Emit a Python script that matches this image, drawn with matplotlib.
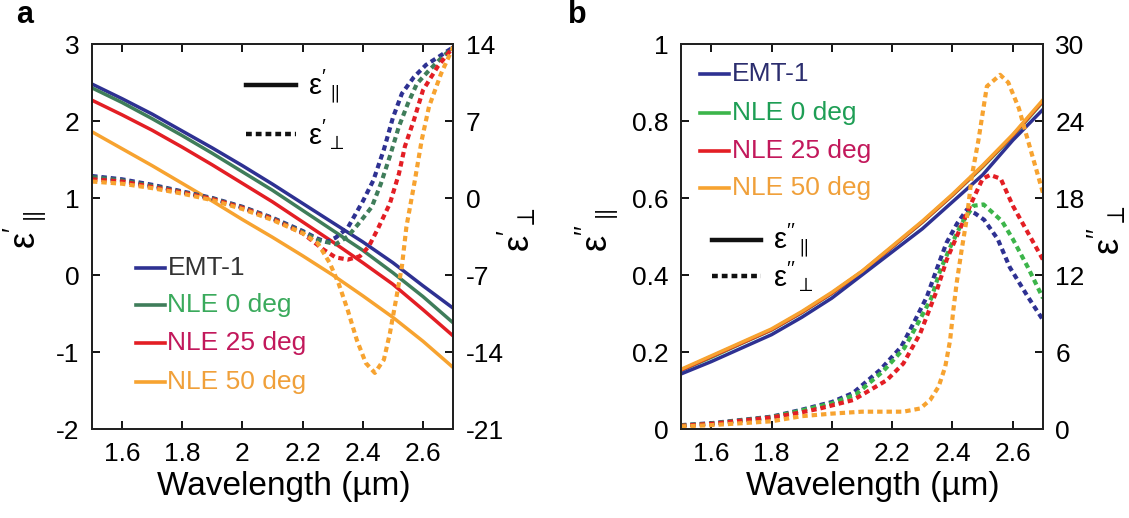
import matplotlib.pyplot as plt
from matplotlib.lines import Line2D
from matplotlib.ticker import FormatStrFormatter

plt.rcParams['font.family'] = ['Liberation Sans', 'DejaVu Sans']
plt.rcParams['mathtext.fontset'] = 'custom'
plt.rcParams['mathtext.rm'] = 'Liberation Sans'
plt.rcParams['mathtext.it'] = 'Liberation Sans'

# ---------------------------------------------------------------------------
# data
# ---------------------------------------------------------------------------
SERIES = ['EMT-1', 'NLE 0 deg', 'NLE 25 deg', 'NLE 50 deg']

# (a) real part, parallel (left axis), common wavelength grid
wl_par = [1.5, 1.6, 1.7, 1.8, 1.9, 2.0, 2.1, 2.2, 2.3, 2.4, 2.5, 2.6, 2.7]
re_par_emt = [2.48, 2.29, 2.09, 1.87, 1.65, 1.42, 1.18, 0.93, 0.68, 0.43, 0.16, -0.14, -0.43]
re_par_0 = [2.43, 2.24, 2.03, 1.81, 1.58, 1.34, 1.10, 0.84, 0.58, 0.32, 0.03, -0.28, -0.62]
re_par_25 = [2.27, 2.08, 1.88, 1.66, 1.43, 1.19, 0.95, 0.69, 0.43, 0.16, -0.12, -0.45, -0.79]
re_par_50 = [1.86, 1.64, 1.42, 1.19, 0.96, 0.72, 0.49, 0.25, 0.0, -0.27, -0.55, -0.86, -1.20]

# (a) real part, perpendicular (right axis)
wl_perp_emt = [1.5, 1.6, 1.7, 1.8, 1.9, 2.0, 2.1, 2.2, 2.25, 2.28, 2.31, 2.35, 2.4,
               2.435, 2.47, 2.5, 2.53, 2.57, 2.61, 2.65, 2.7]
re_perp_emt = [2.0, 1.7, 1.2, 0.6, 0.0, -0.8, -1.8, -3.0, -3.7, -4.0, -3.6, -2.7, -0.3,
               1.6, 4.4, 7.3, 9.5, 11.0, 12.1, 12.8, 13.7]
wl_perp_0 = [1.5, 1.6, 1.7, 1.8, 1.9, 2.0, 2.1, 2.2, 2.25, 2.31, 2.35, 2.39, 2.43,
             2.46, 2.49, 2.52, 2.55, 2.58, 2.62, 2.66, 2.7]
re_perp_0 = [1.9, 1.6, 1.1, 0.55, -0.05, -0.85, -1.85, -3.1, -3.8, -4.2, -3.5, -2.2, -0.8,
             1.3, 3.8, 6.5, 8.6, 10.4, 11.6, 12.7, 13.7]
wl_perp_25 = [1.5, 1.6, 1.7, 1.8, 1.9, 2.0, 2.1, 2.2, 2.27, 2.31, 2.35, 2.39, 2.42,
              2.45, 2.49, 2.52, 2.54, 2.57, 2.6, 2.65, 2.7]
re_perp_25 = [1.7, 1.5, 1.0, 0.5, -0.1, -0.9, -1.9, -3.2, -4.7, -5.4, -5.6, -5.3, -4.4,
              -2.8, -0.5, 2.2, 4.7, 7.1, 9.8, 12.0, 13.7]
wl_perp_50 = [1.5, 1.6, 1.7, 1.8, 1.9, 2.0, 2.1, 2.2, 2.25, 2.29, 2.32, 2.35, 2.38,
              2.41, 2.44, 2.47, 2.49, 2.51, 2.53, 2.545, 2.573, 2.596, 2.62, 2.66, 2.7]
re_perp_50 = [1.5, 1.3, 0.9, 0.4, -0.2, -1.0, -2.0, -3.2, -4.1, -5.9, -7.8, -10.2, -12.9,
              -15.0, -15.9, -14.7, -12.3, -9.3, -6.2, -2.6, 1.6, 5.3, 8.3, 11.3, 13.7]

# (b) imaginary part, parallel (left axis)
wl_ipar = [1.5, 1.6, 1.7, 1.8, 1.9, 2.0, 2.1, 2.2, 2.3, 2.4, 2.5, 2.6, 2.7]
im_par_emt = [0.143, 0.175, 0.21, 0.245, 0.29, 0.34, 0.40, 0.46, 0.52, 0.59, 0.66, 0.75, 0.83]
im_par_0 = [0.152, 0.186, 0.222, 0.257, 0.302, 0.352, 0.408, 0.472, 0.537, 0.607, 0.681, 0.761, 0.85]
im_par_25 = [0.153, 0.188, 0.223, 0.258, 0.303, 0.353, 0.409, 0.473, 0.538, 0.608, 0.683, 0.763, 0.852]
im_par_50 = [0.155, 0.19, 0.225, 0.26, 0.305, 0.355, 0.41, 0.475, 0.54, 0.61, 0.685, 0.765, 0.855]

# (b) imaginary part, perpendicular (right axis)
wl_iperp_emt = [1.5, 1.6, 1.8, 1.9, 2.0, 2.07, 2.16, 2.23, 2.27, 2.315, 2.35, 2.38,
                2.415, 2.448, 2.475, 2.505, 2.55, 2.59, 2.65, 2.7]
im_perp_emt = [0.3, 0.45, 0.96, 1.5, 2.1, 2.8, 4.6, 6.4, 8.2, 10.3, 12.6, 14.5,
               16.0, 17.1, 16.8, 16.3, 14.8, 12.6, 10.3, 8.5]
wl_iperp_0 = [1.5, 1.6, 1.8, 1.9, 2.0, 2.08, 2.17, 2.24, 2.28, 2.33, 2.36, 2.395,
              2.43, 2.47, 2.503, 2.536, 2.564, 2.6, 2.65, 2.7]
im_perp_0 = [0.28, 0.42, 0.92, 1.45, 2.0, 2.7, 4.5, 6.3, 8.0, 10.2, 12.4, 14.3,
             16.0, 17.4, 17.5, 16.8, 16.2, 14.8, 12.6, 10.2]
wl_iperp_25 = [1.5, 1.6, 1.8, 1.9, 1.961, 2.071, 2.182, 2.237, 2.293, 2.348, 2.381,
               2.414, 2.442, 2.47, 2.5, 2.525, 2.56, 2.6, 2.65, 2.7]
im_perp_25 = [0.25, 0.4, 0.9, 1.3, 1.6, 2.26, 3.8, 5.1, 7.45, 10.8, 13.2,
              15.0, 16.5, 18.0, 19.5, 19.8, 19.5, 17.4, 15.3, 13.2]
wl_iperp_50 = [1.5, 1.6, 1.8, 1.9, 2.0, 2.1, 2.237, 2.293, 2.326, 2.354, 2.376, 2.392,
               2.403, 2.414, 2.43, 2.448, 2.464, 2.486, 2.514, 2.558, 2.585, 2.62, 2.65, 2.7]
im_perp_50 = [0.2, 0.3, 0.6, 1.0, 1.2, 1.35, 1.35, 1.6, 2.26, 3.3, 4.85, 6.9,
              9.3, 11.4, 13.9, 16.5, 19.7, 22.5, 26.7, 27.6, 27.0, 25.0, 22.5, 18.4]

XTICKS = [1.6, 1.8, 2.0, 2.2, 2.4, 2.6]

# ---------------------------------------------------------------------------
# style
# ---------------------------------------------------------------------------
C_BLUE = '#2e3192'
C_GREEN_A = '#3f7d5a'
C_GREEN_B = '#3cb54a'
C_RED = '#e31e24'
C_ORANGE = '#f7a330'
TXT_A = ['#333333', '#3aaa5c', '#c2185b', '#f0a03a']
TXT_B = ['#2b2d6e', '#1e9e55', '#c2185b', '#f0a03a']
DASH = (0, (1.3, 0.95))
LW = 2.5
LW_DASH = 3.0
FS_TICK = 19
FS_LEG = 19


def style_axes(ax, ax2, ylim_l, yticks_l, ylim_r, yticks_r, fmt_l):
    ax.set_xlim(1.5, 2.7)
    ax.set_xticks(XTICKS)
    ax.xaxis.set_major_formatter(FormatStrFormatter('%g'))
    ax.set_ylim(*ylim_l)
    ax.set_yticks(yticks_l)
    ax.yaxis.set_major_formatter(FormatStrFormatter(fmt_l))
    ax2.set_ylim(*ylim_r)
    ax2.set_yticks(yticks_r)
    ax2.yaxis.set_major_formatter(FormatStrFormatter('%g'))
    ax.tick_params(axis='x', direction='in', top=True, length=6, width=1.3,
                   labelsize=FS_TICK, pad=9)
    ax.tick_params(axis='y', direction='in', length=6, width=1.3,
                   labelsize=FS_TICK, pad=9)
    ax2.tick_params(axis='y', direction='in', length=6, width=1.3,
                    labelsize=FS_TICK, pad=9)
    for a in (ax, ax2):
        for s in a.spines.values():
            s.set_linewidth(1.4)
            s.set_color('#222222')
    ax.set_xlabel('Wavelength (µm)', fontsize=24)
    ax.xaxis.set_label_coords(0.53, -0.11)


def legend_rows(ax, ys, x0, x1, xt, colors, tcolors, labels, lw=2.6):
    for y, c, tc, lab in zip(ys, colors, tcolors, labels):
        ax.add_line(Line2D([x0, x1], [y, y], color=c, lw=lw,
                           transform=ax.transAxes, clip_on=False))
        ax.text(xt, y, lab, color=tc, fontsize=FS_LEG, va='center',
                ha='left', transform=ax.transAxes)


fig = plt.figure(figsize=(11.29, 5.18), dpi=100)

# ------------------------------ panel a ------------------------------------
ax = fig.add_axes([0.0815, 0.1718, 0.3198, 0.7432])
ax2 = ax.twinx()
cols_a = [C_BLUE, C_GREEN_A, C_RED, C_ORANGE]
for yv, c in zip([re_par_emt, re_par_0, re_par_25, re_par_50], cols_a):
    ax.plot(wl_par, yv, color=c, lw=LW)
for xv, yv, c in zip([wl_perp_emt, wl_perp_0, wl_perp_25, wl_perp_50],
                     [re_perp_emt, re_perp_0, re_perp_25, re_perp_50], cols_a):
    ax2.plot(xv, yv, color=c, lw=LW_DASH, linestyle=DASH)
style_axes(ax, ax2, (-2, 3), range(-2, 4), (-21, 14), range(-21, 15, 7), '%g')
ax.set_ylabel(r"$\mathrm{\varepsilon}'_{\parallel}$", fontsize=26)
ax.yaxis.set_label_coords(-0.118, 0.517)
ax2.set_ylabel(r"$\mathrm{\varepsilon}'_{\perp}$", fontsize=26, rotation=90)
ax2.yaxis.set_label_coords(1.118, 0.517)

legend_rows(ax, [0.418, 0.323, 0.223, 0.123], 0.123, 0.202, 0.209,
            cols_a, TXT_A, SERIES)
ax.add_line(Line2D([0.426, 0.564], [0.893, 0.893], color='#111111', lw=3.2,
                   transform=ax.transAxes))
ax.add_line(Line2D([0.426, 0.564], [0.766, 0.766], color='#111111', lw=3.2,
                   linestyle=(0, (1.3, 0.9)), transform=ax.transAxes))
ax.text(0.598, 0.893, r"$\mathrm{\varepsilon}'_{\parallel}$", fontsize=21,
        va='center', transform=ax.transAxes)
ax.text(0.598, 0.766, r"$\mathrm{\varepsilon}'_{\perp}$", fontsize=21,
        va='center', transform=ax.transAxes)
fig.text(0.014, 0.955, 'a', fontsize=22, fontweight='bold')

# ------------------------------ panel b ------------------------------------
bx = fig.add_axes([0.6032, 0.1718, 0.3206, 0.7432])
bx2 = bx.twinx()
cols_b = [C_BLUE, C_GREEN_B, C_RED, C_ORANGE]
for yv, c in zip([im_par_0, im_par_25, im_par_emt, im_par_50],
                 [C_GREEN_B, C_RED, C_BLUE, C_ORANGE]):
    bx.plot(wl_ipar, yv, color=c, lw=LW)
for xv, yv, c in zip([wl_iperp_emt, wl_iperp_0, wl_iperp_25, wl_iperp_50],
                     [im_perp_emt, im_perp_0, im_perp_25, im_perp_50], cols_b):
    bx2.plot(xv, yv, color=c, lw=LW_DASH, linestyle=DASH)
style_axes(bx, bx2, (0, 1), [0, 0.2, 0.4, 0.6, 0.8, 1.0], (0, 30),
           range(0, 31, 6), '%g')
bx.set_ylabel(r"$\mathrm{\varepsilon}''_{\parallel}$", fontsize=26)
bx.yaxis.set_label_coords(-0.165, 0.517)
bx2.set_ylabel(r"$\mathrm{\varepsilon}''_{\perp}$", fontsize=26, rotation=90)
bx2.yaxis.set_label_coords(1.118, 0.517)

legend_rows(bx, [0.922, 0.822, 0.722, 0.627], 0.053, 0.133, 0.14,
            cols_b, TXT_B, SERIES)
bx.add_line(Line2D([0.085, 0.22], [0.492, 0.492], color='#111111', lw=3.2,
                   transform=bx.transAxes))
bx.add_line(Line2D([0.085, 0.22], [0.397, 0.397], color='#111111', lw=3.2,
                   linestyle=(0, (1.3, 0.9)), transform=bx.transAxes))
bx.text(0.255, 0.492, r"$\mathrm{\varepsilon}''_{\parallel}$", fontsize=21,
        va='center', transform=bx.transAxes)
bx.text(0.255, 0.397, r"$\mathrm{\varepsilon}''_{\perp}$", fontsize=21,
        va='center', transform=bx.transAxes)
fig.text(0.503, 0.955, 'b', fontsize=22, fontweight='bold')

fig.savefig('out.png', dpi=100)
